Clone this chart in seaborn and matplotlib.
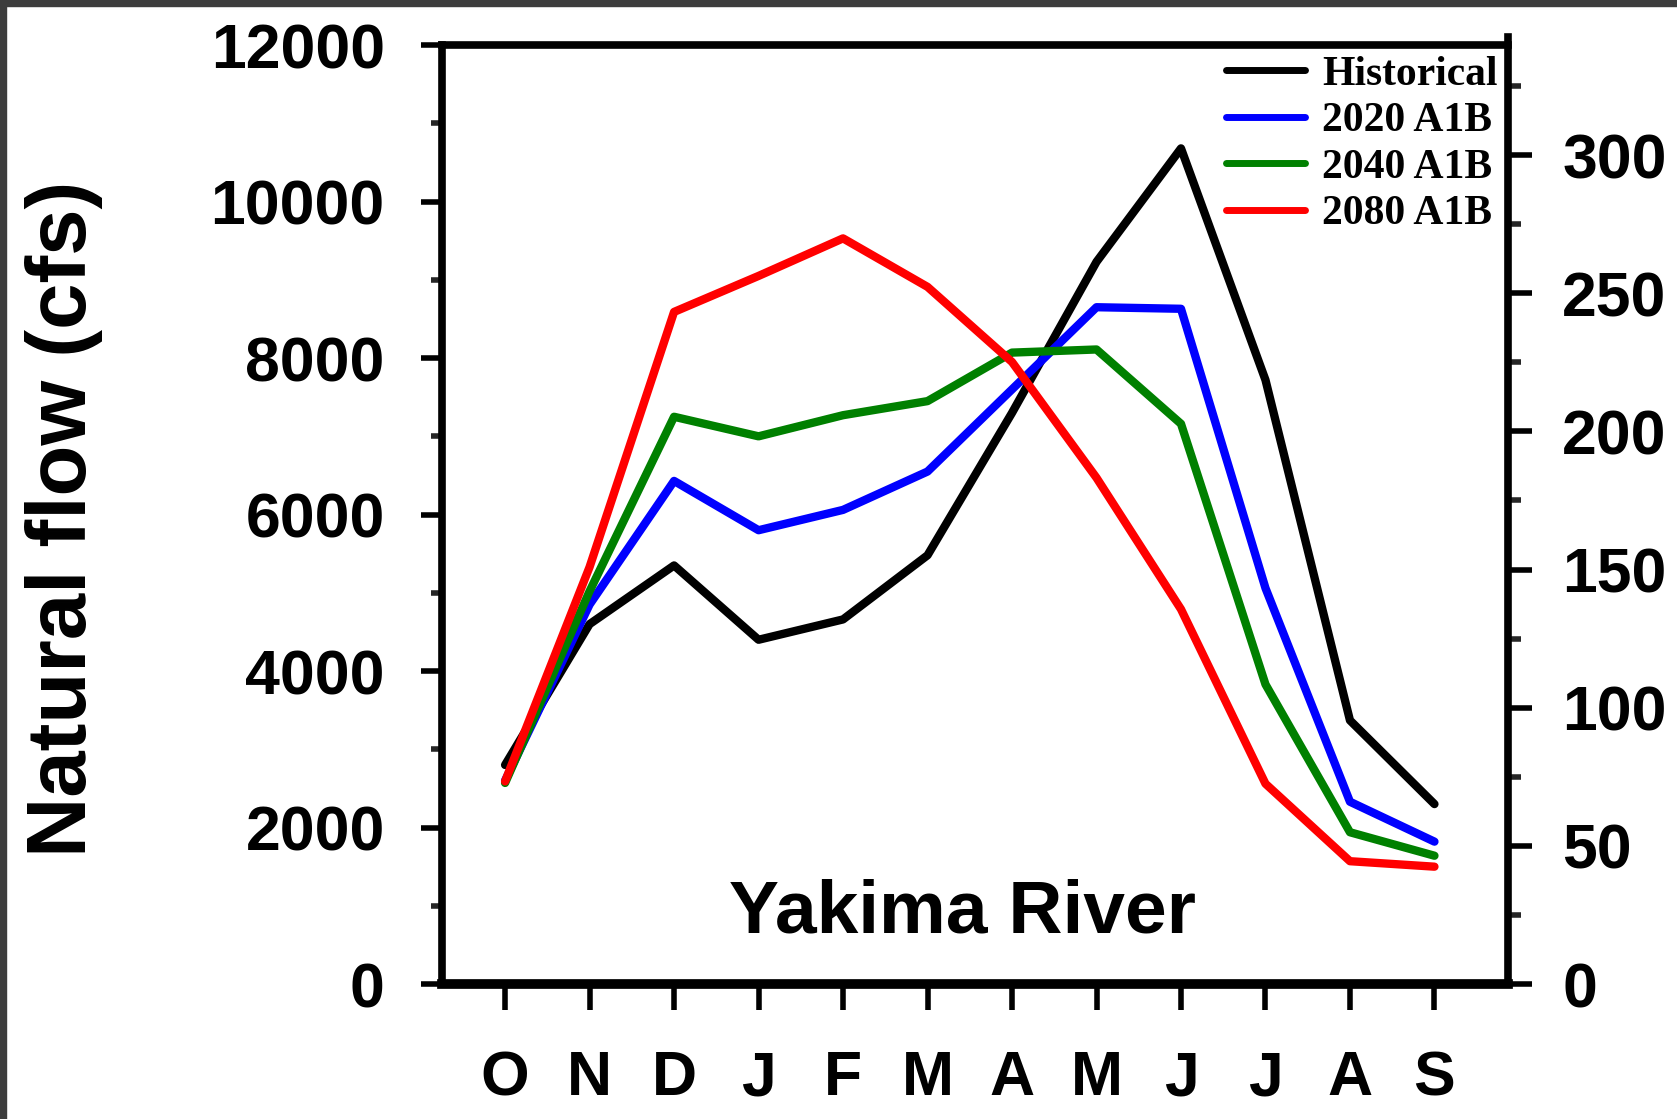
import matplotlib
matplotlib.use('Agg')
import matplotlib.pyplot as plt
import seaborn as sns
import pandas as pd
from matplotlib.ticker import MultipleLocator
from matplotlib.patches import Rectangle

# ---- data ----
months = ['O', 'N', 'D', 'J', 'F', 'M', 'A', 'M', 'J', 'J', 'A', 'S']
series_names = ['Historical', '2020 A1B', '2040 A1B', '2080 A1B']
historical = [2800, 4600, 5350, 4400, 4660, 5480, 7300, 9230, 10680, 7720, 3370, 2300]
a1b_2020 = [2600, 4850, 6430, 5800, 6060, 6550, 7600, 8650, 8630, 5060, 2330, 1820]
a1b_2040 = [2570, 5020, 7250, 7000, 7270, 7450, 8070, 8110, 7160, 3830, 1940, 1640]
a1b_2080 = [2590, 5330, 8590, 9050, 9530, 8910, 7950, 6470, 4790, 2560, 1570, 1500]
series_colors = ['#000000', '#0000ff', '#008000', '#ff0000']
cfs_to_cms = 0.0283168

rows = []
for name, vals in zip(series_names, [historical, a1b_2020, a1b_2040, a1b_2080]):
    for i, v in enumerate(vals):
        rows.append({'idx': i, 'flow': v, 'series': name})
df = pd.DataFrame(rows)

sns.set_theme(style='white')
plt.rcParams['font.family'] = ['Liberation Sans', 'DejaVu Sans']
plt.rcParams['font.weight'] = 'bold'
plt.rcParams['text.color'] = 'black'

fig = plt.figure(figsize=(16.77, 11.19), dpi=100)
ax = fig.add_axes([0.2634, 0.1206, 0.6358, 0.8391])

sns.lineplot(data=df, x='idx', y='flow', hue='series', hue_order=series_names,
             palette=dict(zip(series_names, series_colors)), linewidth=6,
             sort=False, ax=ax, legend=True)

ax.set_xlim(-0.75, 11.87)
ax.set_ylim(0, 12000)
ax.set_xlabel('')
ax.set_ylabel('')
ax.set_xticks(range(len(months)))
ax.set_xticklabels(months)
ax.yaxis.set_major_locator(MultipleLocator(2000))
ax.yaxis.set_minor_locator(MultipleLocator(1000))

for side in ['left', 'top', 'bottom']:
    ax.spines[side].set_visible(True)
    ax.spines[side].set_color('black')
    ax.spines[side].set_linewidth(5.5)
ax.spines['bottom'].set_linewidth(7)
ax.spines['right'].set_visible(False)

ax.tick_params(axis='y', which='major', left=True, direction='out', length=15, width=4,
               pad=26, labelsize=45, colors='black')
ax.tick_params(axis='y', which='minor', left=True, direction='out', length=8, width=4)
ax.tick_params(axis='x', which='major', bottom=True, direction='out', length=19, width=4,
               pad=28, labelsize=45, colors='black')

# right axis in m3/s
ax2 = ax.twinx()
ax2.set_ylim(0, 12000 * cfs_to_cms)
ax2.yaxis.set_major_locator(MultipleLocator(50))
ax2.yaxis.set_minor_locator(MultipleLocator(25))
for side in ['left', 'top', 'bottom']:
    ax2.spines[side].set_visible(False)
ax2.spines['right'].set_visible(True)
ax2.spines['right'].set_color('black')
ax2.spines['right'].set_linewidth(5.5)
ax2.spines['right'].set_bounds(0, 12100 * cfs_to_cms)
ax2.set_ylim(0, 12000 * cfs_to_cms)
ax2.spines['right'].set_clip_on(False)
ax2.tick_params(axis='y', which='major', right=True, direction='out', length=17, width=4,
                pad=22, labelsize=45, colors='black')
ax2.tick_params(axis='y', which='minor', right=True, direction='out', length=9, width=4)
ax2.grid(False)
ax.grid(False)

# legend
handles, labels = ax.get_legend_handles_labels()
leg = ax.legend(handles, labels, loc='upper right', bbox_to_anchor=(1.0, 1.0),
                frameon=False, prop={'family': 'Liberation Serif', 'weight': 'bold', 'size': 30},
                handlelength=1.9, handletextpad=0.4, labelspacing=0.2,
                borderaxespad=0.0, borderpad=0.25)
for line in leg.get_lines():
    line.set_linewidth(5)
for t in leg.get_texts():
    t.set_color('black')

ax.text(0.488, 0.0756, 'Yakima River', transform=ax.transAxes, ha='center', va='center',
        fontsize=54, fontweight='bold', color='black')

fig.text(0.038, 1 - 519 / 1119, 'Natural flow (cfs)', rotation=90, ha='center', va='center',
         fontsize=60, fontweight='bold', color='black')

# dark screenshot frame on top and left
fig.patches.append(Rectangle((0, 1 - 6 / 1119), 1, 6 / 1119, transform=fig.transFigure,
                             color='#3d3d3d', zorder=10))
fig.patches.append(Rectangle((0, 0), 6 / 1677, 1, transform=fig.transFigure,
                             color='#3d3d3d', zorder=10))

fig.savefig('out.png', dpi=100)
